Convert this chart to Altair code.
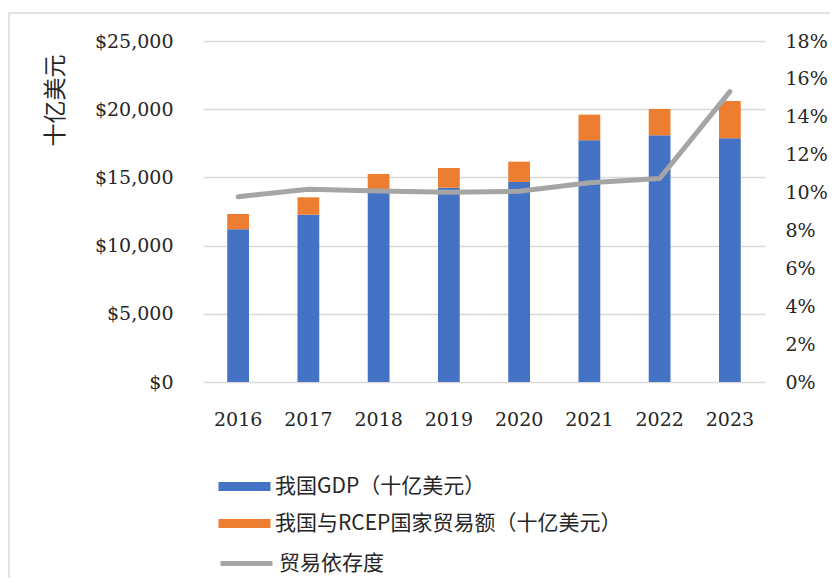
import altair as alt
import pandas as pd

years = ["2016", "2017", "2018", "2019", "2020", "2021", "2022", "2023"]
gdp = [11200, 12265, 13895, 14250, 14665, 17720, 18085, 17865]
rcep = [1120, 1275, 1355, 1440, 1490, 1880, 1930, 2735]
dependence = [0.0978, 0.1017, 0.1008, 0.1001, 0.1007, 0.1052, 0.1074, 0.1533]
left_ticks = [0, 5000, 10000, 15000, 20000, 25000]
right_ticks = [0, 0.02, 0.04, 0.06, 0.08, 0.10, 0.12, 0.14, 0.16, 0.18]

S_GDP = "我国GDP（十亿美元）"
S_RCEP = "我国与RCEP国家贸易额（十亿美元）"
S_DEP = "贸易依存度"

rows = []
for y, g, r in zip(years, gdp, rcep):
    rows.append({"year": y, "series": S_GDP, "value": g, "idx": 0})
    rows.append({"year": y, "series": S_RCEP, "value": r, "idx": 1})
bars_df = pd.DataFrame(rows)
line_df = pd.DataFrame({"year": years, "dep": dependence, "series": [S_DEP] * len(years)})

NUM_FONT = "DejaVu Serif"
CJK_FONT = "Noto Sans CJK SC"
TXT = "#262626"

x_enc = alt.X(
    "year:N", sort=years,
    scale=alt.Scale(paddingInner=0.69, paddingOuter=0.345),
    axis=alt.Axis(title=None, labelAngle=0, ticks=False, domain=False, grid=False, labelPadding=28,
                  labelFontSize=19, labelFont=NUM_FONT, labelColor=TXT, labelFontWeight="normal"),
)

# outer chart frame (decoration, like the spreadsheet chart border)
frame = alt.Chart(pd.DataFrame({"f": [0]})).mark_rect(
    fill="transparent", stroke="#D9D9D9", strokeWidth=1.5
).encode(
    x=alt.value(-194), x2=alt.value(700), y=alt.value(-28), y2=alt.value(600)
)

bars = alt.Chart(bars_df).mark_bar().encode(
    x=x_enc,
    y=alt.Y(
        "value:Q", stack="zero", scale=alt.Scale(domain=[0, 25000]),
        axis=alt.Axis(values=left_ticks, format="$,.0f", title="十亿美元", ticks=False, domain=False,
                      grid=True, gridColor="#D9D9D9", gridWidth=1.3,
                      labelFont=NUM_FONT, labelFontSize=19, labelColor=TXT, labelPadding=30,
                      titleFont=CJK_FONT, titleFontSize=23, titleFontWeight="normal", titleColor=TXT,
                      titleAngle=270, titleAlign="center", titleBaseline="middle",
                      titleX=-148, titleY=59),
    ),
    fill=alt.Fill(
        "series:N",
        scale=alt.Scale(domain=[S_GDP, S_RCEP], range=["#4472C4", "#ED7D31"]),
        legend=alt.Legend(orient="none", legendX=31, legendY=435, title=None, direction="vertical",
                          symbolType="M-2.6,-0.45H2.6V0.45H-2.6Z", symbolSize=400, symbolStrokeWidth=0,
                          labelFont=CJK_FONT, labelFontSize=21, labelColor=TXT, labelOffset=20,
                          rowPadding=15, padding=0, labelLimit=600),
    ),
    order=alt.Order("idx:Q"),
)

line = alt.Chart(line_df).mark_line(strokeWidth=5, strokeCap="round", strokeJoin="round").encode(
    x=x_enc,
    y=alt.Y(
        "dep:Q", scale=alt.Scale(domain=[0, 0.18]),
        axis=alt.Axis(orient="right", values=right_ticks, format=".0%", title=None, grid=False,
                      ticks=False, domain=False, labelFont=NUM_FONT, labelFontSize=19,
                      labelColor=TXT, labelPadding=20),
    ),
    stroke=alt.Stroke(
        "series:N",
        scale=alt.Scale(domain=[S_DEP], range=["#A5A5A5"]),
        legend=alt.Legend(orient="none", legendX=31, legendY=510, title=None,
                          symbolType="M-2.6,0H2.6", symbolSize=400, symbolStrokeWidth=5,
                          labelFont=CJK_FONT, labelFontSize=21, labelColor=TXT, labelOffset=20,
                          padding=0, labelLimit=600),
    ),
)

chart = (
    alt.layer(frame, bars, line)
    .resolve_scale(y="independent")
    .properties(width=562, height=341, autosize=alt.AutoSizeParams(type="none"),
                padding={"left": 195, "top": 33, "right": 65, "bottom": 196},
                background="white")
    .configure_view(stroke="transparent", strokeWidth=0)
)

chart.save("out.html", embed_options={"renderer": "svg", "actions": False})
